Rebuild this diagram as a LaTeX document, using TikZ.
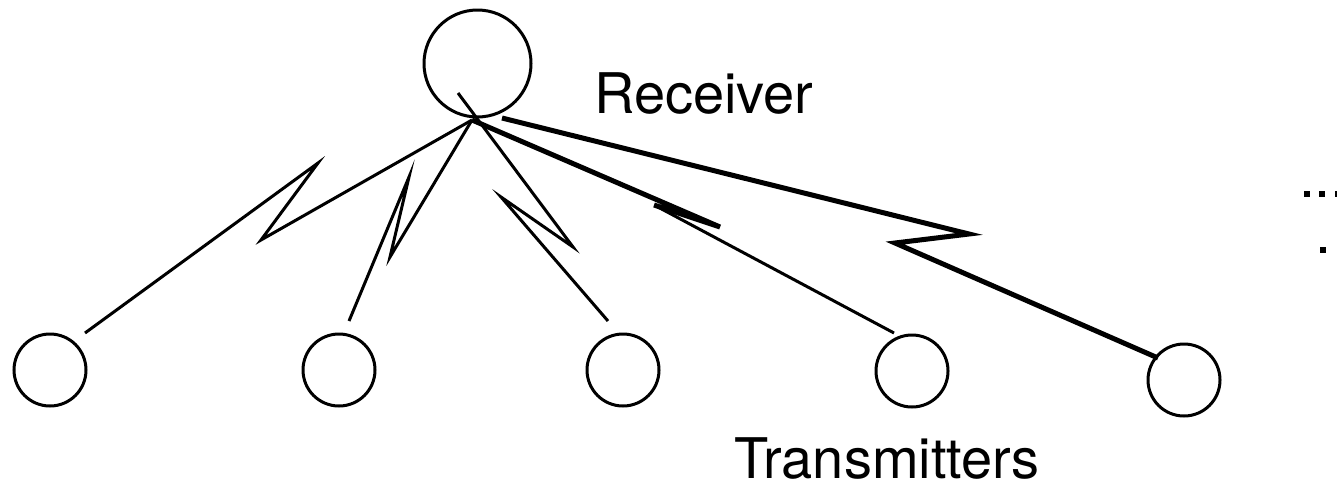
\documentclass[tikz,border=0pt]{standalone}
\usepackage{fontspec}
\setmainfont{TeX Gyre Heros}
\begin{document}
\begin{tikzpicture}[x=1pt,y=-1pt,
  station/.style={draw,circle,line width=3pt,inner sep=0pt},
  rx/.style={station,minimum size=107pt},
  tx/.style={station,minimum size=72pt},
  link/.style={line width=3pt,line join=miter,miter limit=20},
  thicklink/.style={line width=5pt,line join=miter,miter limit=20},
  label/.style={inner sep=0pt,font=\fontsize{56pt}{60pt}\selectfont},
  dot/.style={fill=black,draw=none}]
\useasboundingbox (0,0) rectangle (1337,485);
\node[rx] (rcv) at (477.5,63.5) {};
\node[tx] (t1) at (50,370) {};
\node[tx] (t2) at (339,370) {};
\node[tx] (t3) at (623,370) {};
\node[tx] (t4) at (912,371) {};
\node[tx] (t5) at (1184,380) {};
\coordinate (hub) at (472,120);
\coordinate (hubtip) at (458,93);
\coordinate (rcvedge) at (502,118);
\coordinate (e1) at (85,333);
\coordinate (e2) at (349,321);
\coordinate (e3) at (608,321);
\coordinate (e4) at (894,333);
\coordinate (e5) at (1158,358);
\node[label,anchor=base west] (rlab) at (594,113) {Receiver};
\node[label,anchor=base west] (tlab) at (734,478) {Transmitters};
\draw[link] (e1) -- (318,163) -- (261,240) -- (hub);
\draw[link] (e2) -- (409,177) -- (390,257) -- (hub);
\draw[link] (e3) -- (501,197) -- (573,247) -- (hubtip);
\draw[thicklink] (hub) -- (720,227) -- (654,205);
\draw[link] (656,206) -- (e4);
\draw[thicklink] (rcvedge) -- (969,234) -- (895,243) -- (e5);
\fill[dot] (1304,191) rectangle (1310,197);
\fill[dot] (1319,191) rectangle (1325,197);
\fill[dot] (1335,191) rectangle (1341,197);
\fill[dot] (1320,247) rectangle (1326,253);
\end{tikzpicture}
\end{document}
